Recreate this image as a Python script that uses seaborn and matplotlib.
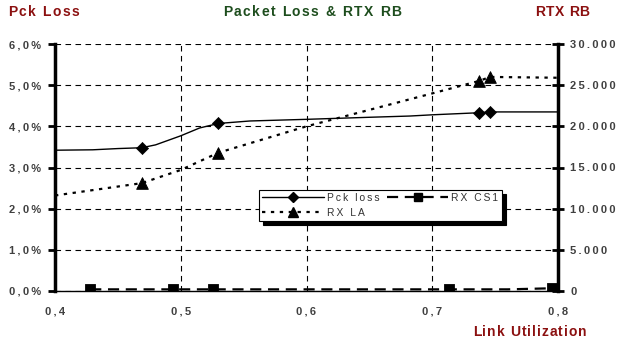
import matplotlib
matplotlib.use("Agg")
import matplotlib.pyplot as plt
from matplotlib.ticker import FuncFormatter, MultipleLocator
from matplotlib.lines import Line2D
from matplotlib.font_manager import FontProperties
import seaborn as sns

# Packet loss curve (link utilization -> %)
loss_x = [0.40, 0.43, 0.45, 0.469, 0.48, 0.50, 0.515, 0.53, 0.555, 0.60, 0.65, 0.682, 0.70, 0.737, 0.746, 0.80]
loss_y = [3.42, 3.43, 3.46, 3.48, 3.55, 3.77, 3.96, 4.07, 4.13, 4.17, 4.22, 4.25, 4.28, 4.33, 4.35, 4.35]
loss_mark_x = [0.469, 0.53, 0.737, 0.746]
loss_mark_y = [3.48, 4.07, 4.33, 4.35]

# Retransmitted resource blocks
rxla_x = [0.40, 0.469, 0.50, 0.53, 0.60, 0.70, 0.737, 0.746, 0.80]
rxla_y = [11600, 13100, 14700, 16800, 20000, 24000, 25500, 26000, 25900]
rxla_mark_x = [0.469, 0.53, 0.737, 0.746]
rxla_mark_y = [13100, 16800, 25500, 26000]

rxcs1_x = [0.428, 0.494, 0.526, 0.713, 0.76, 0.795]
rxcs1_y = [200, 200, 200, 200, 200, 330]
rxcs1_mark_x = [0.428, 0.494, 0.526, 0.713, 0.795]
rxcs1_mark_y = [200, 200, 200, 200, 330]

x_ticks = [0.4, 0.5, 0.6, 0.7, 0.8]

sns.set_style("white")
plt.rcParams["font.family"] = ["Liberation Sans", "DejaVu Sans"]

W, H = 619, 342
fig = plt.figure(figsize=(W / 100, H / 100), dpi=100)
ax = fig.add_axes([55 / W, 1 - 291 / H, 503 / W, 247 / H])
ax2 = ax.twinx()

dark_red = "#8b1010"
dark_green = "#1d4d1d"
tick_gray = "#404040"


def spaced(s, sep="\u2009"):
    """Letter-spaced label text."""
    return sep.join(s)


def tracked_text(x_px, y_px, s, tracking, size, color):
    """Draw bold text starting at x_px with extra spacing between letters."""
    renderer = fig.canvas.get_renderer()
    prop = FontProperties(family=["Liberation Sans", "DejaVu Sans"],
                          weight="bold", size=size)

    def width(t):
        return renderer.get_text_width_height_descent(t, prop, ismath=False)[0]

    bar = width("|")
    for i, ch in enumerate(s):
        if ch == " ":
            continue
        off = (width(s[:i] + "|") - bar) if i else 0.0
        fig.text((x_px + off + i * tracking) / W, 1 - y_px / H, ch,
                 fontproperties=prop, color=color, ha="left", va="center")


# Packet loss on the left axis
sns.lineplot(x=loss_x, y=loss_y, ax=ax, color="black", lw=1.0, zorder=4)
sns.scatterplot(x=loss_mark_x, y=loss_mark_y, ax=ax, marker="D", s=38,
                color="black", edgecolor="black", zorder=5)

# RTX RB on the right axis
sns.lineplot(x=rxla_x, y=rxla_y, ax=ax2, color="black", lw=1.6,
             linestyle=(0, (1.5, 2.5)), zorder=4)
sns.scatterplot(x=rxla_mark_x, y=rxla_mark_y, ax=ax2, marker="^", s=70,
                color="black", edgecolor="black", zorder=5)
sns.lineplot(x=rxcs1_x, y=rxcs1_y, ax=ax2, color="black", lw=1.6,
             linestyle=(0, (5, 3)), zorder=4)
sns.scatterplot(x=rxcs1_mark_x, y=rxcs1_mark_y, ax=ax2, marker="s", s=55,
                color="black", edgecolor="black", zorder=5)

ax.set_xlim(0.4, 0.8)
ax.set_ylim(0, 6)
ax2.set_ylim(0, 30000)
ax.set_xticks(x_ticks)
ax.yaxis.set_major_locator(MultipleLocator(1))
ax2.yaxis.set_major_locator(MultipleLocator(5000))

ax.xaxis.set_major_formatter(FuncFormatter(
    lambda v, p: spaced(f"{v:.1f}".replace(".", ","))))
ax.yaxis.set_major_formatter(FuncFormatter(
    lambda v, p: spaced(f"{v:.1f}%".replace(".", ","))))
ax2.yaxis.set_major_formatter(FuncFormatter(
    lambda v, p: spaced(f"{int(round(v)):,}".replace(",", "."))))

# Dashed grid
ax.grid(True, color="black", linestyle=(0, (5, 4)), lw=0.8)
ax.set_axisbelow(True)

for a in (ax, ax2):
    a.spines["top"].set_visible(False)
ax.spines["right"].set_visible(False)
ax2.spines["left"].set_visible(False)
ax2.spines["bottom"].set_visible(False)
ax.spines["left"].set_linewidth(2.5)
ax2.spines["right"].set_linewidth(2.5)
ax.spines["bottom"].set_linewidth(1.0)
for s in ("left", "bottom"):
    ax.spines[s].set_color("black")
ax2.spines["right"].set_color("black")

ax.tick_params(axis="y", direction="out", length=5, width=2, colors="black", pad=5)
ax.tick_params(axis="x", direction="out", length=4.5, width=1, colors="black", pad=7)
ax2.tick_params(axis="y", direction="inout", length=8, width=2, colors="black", pad=5)
for lab in ax.get_xticklabels() + ax.get_yticklabels() + ax2.get_yticklabels():
    lab.set_fontsize(8)
    lab.set_fontweight("bold")
    lab.set_color(tick_gray)

# Legend
h_loss = Line2D([], [], color="black", lw=1.0, marker="D", markersize=5)
h_la = Line2D([], [], color="black", lw=1.6, linestyle=(0, (1.5, 2.5)), marker="^", markersize=7)
h_cs1 = Line2D([], [], color="black", lw=1.6, linestyle=(0, (5, 3)), marker="s", markersize=6)
leg = ax2.legend([h_loss, h_la, h_cs1],
                 [spaced("Pck loss"), spaced("RX LA"), spaced("RX CS1")], ncol=2,
                 loc="upper left", bbox_to_anchor=(0.4056, 0.409),
                 fontsize=7.4, frameon=True, fancybox=False,
                 shadow={"color": "black", "alpha": 1.0, "ox": 3, "oy": -3},
                 borderpad=0.3, labelspacing=0.45, handlelength=6.0,
                 handletextpad=0.3, columnspacing=0.7, borderaxespad=0)
leg.get_frame().set_edgecolor("black")
leg.get_frame().set_linewidth(0.8)
leg.get_frame().set_facecolor("white")
leg.set_zorder(10)
for t in leg.get_texts():
    t.set_color("#333333")

# Titles
tracked_text(8, 12.5, "Pck Loss", 1.5, 10, dark_red)
tracked_text(223, 12.5, "Packet Loss & RTX RB", 1.5, 10, dark_green)
tracked_text(535, 12.5, "RTX RB", 0.6, 10, dark_red)
tracked_text(473, 332, "Link Utilization", 1.0, 10, dark_red)

fig.savefig("out.png", dpi=100)
